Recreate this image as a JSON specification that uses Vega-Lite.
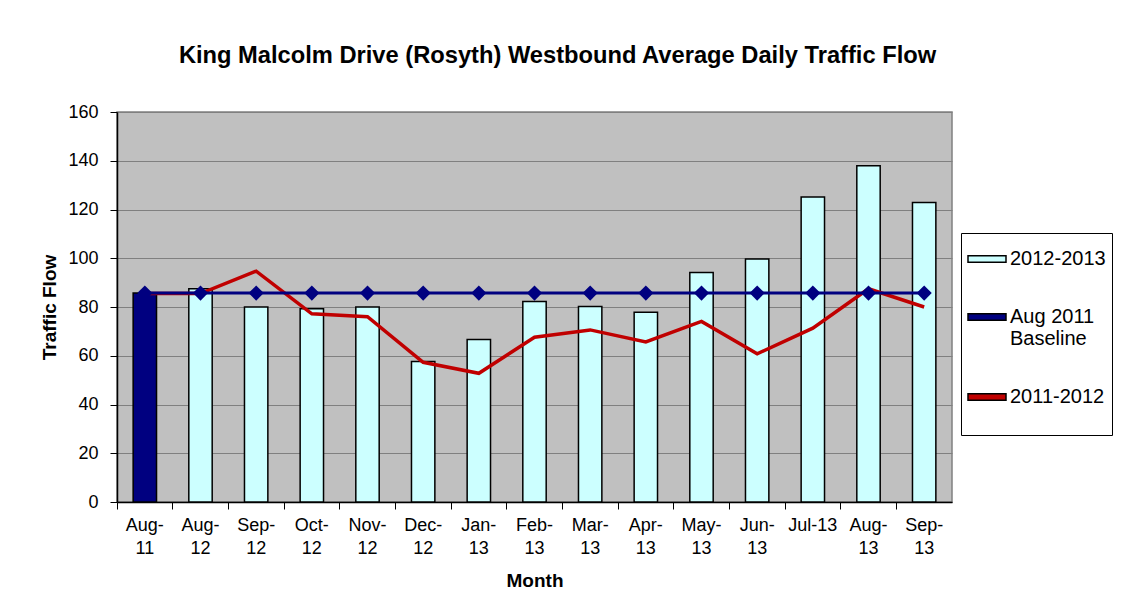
{
  "$schema": "https://vega.github.io/schema/vega-lite/v6.json",
  "width": 835,
  "height": 390,
  "autosize": {"type": "none"},
  "padding": {"left": 117, "top": 112, "right": 172, "bottom": 105},
  "background": "white",
  "config": {
    "font": "Liberation Sans",
    "view": {"fill": "#C0C0C0", "stroke": "#808080", "strokeWidth": 1.5}
  },
  "title": {
    "text": "King Malcolm Drive (Rosyth) Westbound Average Daily Traffic Flow",
    "font": "Liberation Sans",
    "fontSize": 23.7,
    "fontWeight": "bold",
    "color": "black",
    "anchor": "middle",
    "dx": 23,
    "offset": 35
  },
  "datasets": {
    "bars": [
      {"month": "Aug-11", "series": "Aug 2011 Baseline", "value": 85.7},
      {"month": "Aug-12", "series": "2012-2013", "value": 87.5},
      {"month": "Sep-12", "series": "2012-2013", "value": 80.0},
      {"month": "Oct-12", "series": "2012-2013", "value": 79.3},
      {"month": "Nov-12", "series": "2012-2013", "value": 80.0},
      {"month": "Dec-12", "series": "2012-2013", "value": 57.6},
      {"month": "Jan-13", "series": "2012-2013", "value": 66.7},
      {"month": "Feb-13", "series": "2012-2013", "value": 82.3},
      {"month": "Mar-13", "series": "2012-2013", "value": 80.2},
      {"month": "Apr-13", "series": "2012-2013", "value": 77.8},
      {"month": "May-13", "series": "2012-2013", "value": 94.2},
      {"month": "Jun-13", "series": "2012-2013", "value": 99.7},
      {"month": "Jul-13", "series": "2012-2013", "value": 125.1},
      {"month": "Aug-13", "series": "2012-2013", "value": 137.9},
      {"month": "Sep-13", "series": "2012-2013", "value": 122.9}
    ],
    "baseline": [
      {"month": "Aug-11", "series": "Aug 2011 Baseline", "value": 85.7},
      {"month": "Aug-12", "series": "Aug 2011 Baseline", "value": 85.7},
      {"month": "Sep-12", "series": "Aug 2011 Baseline", "value": 85.7},
      {"month": "Oct-12", "series": "Aug 2011 Baseline", "value": 85.7},
      {"month": "Nov-12", "series": "Aug 2011 Baseline", "value": 85.7},
      {"month": "Dec-12", "series": "Aug 2011 Baseline", "value": 85.7},
      {"month": "Jan-13", "series": "Aug 2011 Baseline", "value": 85.7},
      {"month": "Feb-13", "series": "Aug 2011 Baseline", "value": 85.7},
      {"month": "Mar-13", "series": "Aug 2011 Baseline", "value": 85.7},
      {"month": "Apr-13", "series": "Aug 2011 Baseline", "value": 85.7},
      {"month": "May-13", "series": "Aug 2011 Baseline", "value": 85.7},
      {"month": "Jun-13", "series": "Aug 2011 Baseline", "value": 85.7},
      {"month": "Jul-13", "series": "Aug 2011 Baseline", "value": 85.7},
      {"month": "Aug-13", "series": "Aug 2011 Baseline", "value": 85.7},
      {"month": "Sep-13", "series": "Aug 2011 Baseline", "value": 85.7}
    ],
    "prev": [
      {"month": "Aug-11", "series": "2011-2012", "value": 85.5},
      {"month": "Aug-12", "series": "2011-2012", "value": 85.5},
      {"month": "Sep-12", "series": "2011-2012", "value": 94.7},
      {"month": "Oct-12", "series": "2011-2012", "value": 77.2},
      {"month": "Nov-12", "series": "2011-2012", "value": 76.0},
      {"month": "Dec-12", "series": "2011-2012", "value": 57.3},
      {"month": "Jan-13", "series": "2011-2012", "value": 52.8},
      {"month": "Feb-13", "series": "2011-2012", "value": 67.6},
      {"month": "Mar-13", "series": "2011-2012", "value": 70.6},
      {"month": "Apr-13", "series": "2011-2012", "value": 65.7},
      {"month": "May-13", "series": "2011-2012", "value": 74.1},
      {"month": "Jun-13", "series": "2011-2012", "value": 60.8},
      {"month": "Jul-13", "series": "2011-2012", "value": 71.3},
      {"month": "Aug-13", "series": "2011-2012", "value": 87.5},
      {"month": "Sep-13", "series": "2011-2012", "value": 80.0}
    ]
  },
  "encoding": {
    "x": {
      "field": "month",
      "type": "nominal",
      "sort": null,
      "scale": {"type": "band", "paddingInner": 0, "paddingOuter": 0},
      "axis": {
        "title": "Month",
        "titleFont": "Liberation Sans",
        "titleFontSize": 19,
        "titleFontWeight": "bold",
        "titleColor": "black",
        "titlePadding": 14,
        "labelAngle": 0,
        "labelFont": "Liberation Sans",
        "labelFontSize": 18,
        "labelColor": "black",
        "labelPadding": 7,
        "labelLineHeight": 23,
        "labelExpr": "datum.value == 'Jul-13' ? datum.value : [split(datum.value, '-')[0] + '-', split(datum.value, '-')[1]]",
        "bandPosition": 0,
        "labelAlign": "center",
        "ticks": true,
        "tickSize": 7,
        "tickColor": "black",
        "domainColor": "black",
        "domainWidth": 1.5,
        "grid": false
      }
    },
    "y": {
      "field": "value",
      "type": "quantitative",
      "scale": {"domain": [0, 160], "nice": false},
      "axis": {
        "title": "Traffic Flow",
        "titleFont": "Liberation Sans",
        "titleFontSize": 19,
        "titleFontWeight": "bold",
        "titleColor": "black",
        "titlePadding": 8,
        "values": [0, 20, 40, 60, 80, 100, 120, 140, 160],
        "labelFont": "Liberation Sans",
        "labelFontSize": 18,
        "labelColor": "black",
        "labelPadding": 12,
        "tickSize": 7,
        "tickColor": "black",
        "domainColor": "black",
        "domainWidth": 1.5,
        "grid": true,
        "gridColor": "#808080",
        "gridWidth": 1
      }
    }
  },
  "layer": [
    {
      "data": {"name": "bars"},
      "mark": {"type": "bar", "width": {"band": 0.42}, "stroke": "black", "strokeWidth": 1.5},
      "encoding": {
        "color": {
          "field": "series",
          "type": "nominal",
          "scale": {
            "domain": ["2012-2013", "Aug 2011 Baseline", "2011-2012"],
            "range": ["#CCFFFF", "#000080", "#C00000"]
          },
          "legend": {
            "title": " ",
            "titleOrient": "bottom",
            "titleFontSize": 16,
            "titlePadding": 6,
            "orient": "none",
            "legendX": 844,
            "legendY": 121,
            "direction": "vertical",
            "strokeColor": "black",
            "fillColor": "white",
            "padding": 6,
            "rowPadding": 28,
            "symbolSize": 1444,
            "symbolType": "M-1,-0.17H1V0.17H-1Z",
            "symbolOffset": 0,
            "labelOffset": 3,
            "labelFont": "Liberation Sans",
            "labelFontSize": 20,
            "labelColor": "black",
            "labelLimit": 300,
            "labelExpr": "datum.value == 'Aug 2011 Baseline' ? ['Aug 2011', 'Baseline'] : datum.value"
          }
        }
      }
    },
    {
      "data": {"name": "prev"},
      "mark": {"type": "line", "strokeWidth": 3.5, "stroke": "#C00000"},
      "encoding": {}
    },
    {
      "data": {"name": "baseline"},
      "mark": {"type": "line", "strokeWidth": 3, "stroke": "#000080", "point": {"shape": "diamond", "size": 230, "filled": true, "fill": "#000080", "opacity": 1}},
      "encoding": {}
    }
  ]
}
